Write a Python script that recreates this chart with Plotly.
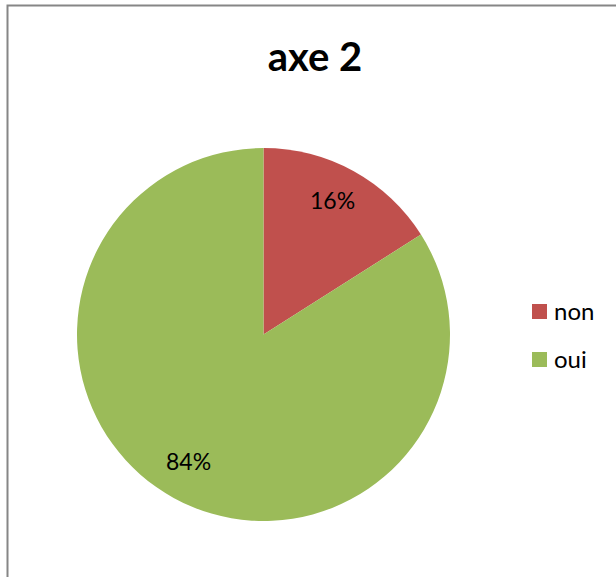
import math
import plotly.graph_objects as go

# Chart data
categories = ["non", "oui"]
values = [16, 84]
colors = ["#C0504D", "#9BBB59"]

W, H = 616, 577
FONT = "Lato, Carlito, sans-serif"

# Pie placement in paper coordinates
dom_x = [77 / W, 450 / W]
dom_y = [1 - 521 / H, 1 - 148 / H]

fig = go.Figure(
    go.Pie(
        labels=categories,
        values=values,
        marker=dict(colors=colors, line=dict(width=0)),
        sort=False,
        direction="clockwise",
        rotation=0,
        textinfo="none",
        hoverinfo="label+percent",
        domain=dict(x=dom_x, y=dom_y),
        showlegend=False,
    )
)

# Percentage labels placed along each slice's mid-angle
cx = (dom_x[0] + dom_x[1]) / 2 * W
cy = (1 - (dom_y[0] + dom_y[1]) / 2) * H
radius = (dom_x[1] - dom_x[0]) * W / 2
total = sum(values)
start = 0.0
for v in values:
    frac = v / total
    mid = (start + frac / 2) * 2 * math.pi
    start += frac
    r = radius * 0.8
    px = cx + r * math.sin(mid) - 3
    py = cy - r * math.cos(mid) - 4
    fig.add_annotation(
        x=px / W, y=1 - py / H, xref="paper", yref="paper",
        text=f"{round(frac * 100)}%", showarrow=False,
        font=dict(family=FONT, size=23, color="#000000"),
        xanchor="center", yanchor="middle",
    )

# Legend: colour square + label per category
leg_x0, leg_y0, leg_step, sq = 532, 311.5, 48, 15
for i, (cat, col) in enumerate(zip(categories, colors)):
    yc = leg_y0 + i * leg_step
    fig.add_shape(
        type="rect", xref="paper", yref="paper",
        x0=leg_x0 / W, x1=(leg_x0 + sq) / W,
        y0=1 - (yc + sq / 2) / H, y1=1 - (yc - sq / 2) / H,
        fillcolor=col, line=dict(width=0),
    )
    fig.add_annotation(
        x=(leg_x0 + sq + 5) / W, y=1 - (yc - 1) / H, xref="paper", yref="paper",
        text=cat, showarrow=False, xanchor="left", yanchor="middle",
        font=dict(family=FONT, size=24, color="#000000"),
    )

# Chart area border
fig.add_shape(
    type="rect", xref="paper", yref="paper",
    x0=7.5 / W, x1=1.05, y0=-0.05, y1=1 - 5.5 / H,
    line=dict(color="#868686", width=2),
    fillcolor="rgba(0,0,0,0)",
)

fig.update_layout(
    width=W, height=H,
    margin=dict(l=0, r=0, t=0, b=0),
    paper_bgcolor="#FFFFFF",
    plot_bgcolor="#FFFFFF",
    showlegend=False,
    title=dict(
        text="<b>axe 2</b>", x=315 / W, y=1 - 57 / H,
        xanchor="center", yanchor="middle",
        font=dict(family=FONT, size=40, color="#000000"),
    ),
)

fig.write_html("out.html")
